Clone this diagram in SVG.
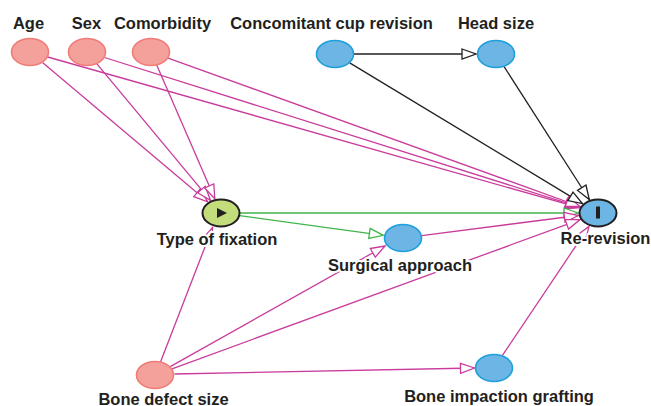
<svg xmlns="http://www.w3.org/2000/svg" width="651" height="406" viewBox="0 0 651 406">
<defs>
<style>
.e{fill:none;stroke-width:1.3}
.m{stroke:#c93c9c}
.g{stroke:#3fb54b}
.k{stroke:#231f20}
.lab{font-family:"Liberation Sans",Arial,sans-serif;font-size:16.5px;font-weight:bold;fill:#231f20;text-anchor:middle;stroke:#fff;stroke-width:4;paint-order:stroke;stroke-linejoin:round}
.pink{fill:#f5a19b;stroke:#f07c78;stroke-width:1.6}
.blue{fill:#6cb5e4;stroke:#1d9fdb;stroke-width:1.6}
.out{stroke:#231f20;stroke-width:2}
</style>
<marker id="am" markerUnits="userSpaceOnUse" markerWidth="16" markerHeight="12" refX="14" refY="5" orient="auto" overflow="visible"><path d="M0,0 L14,5 L0,10 Z" fill="#fff" stroke="#c93c9c" stroke-width="1.3"/></marker>
<marker id="ag" markerUnits="userSpaceOnUse" markerWidth="16" markerHeight="12" refX="14" refY="5" orient="auto" overflow="visible"><path d="M0,0 L14,5 L0,10 Z" fill="#fff" stroke="#3fb54b" stroke-width="1.3"/></marker>
<marker id="ak" markerUnits="userSpaceOnUse" markerWidth="16" markerHeight="12" refX="14" refY="5" orient="auto" overflow="visible"><path d="M0,0 L14,5 L0,10 Z" fill="#fff" stroke="#231f20" stroke-width="1.3"/></marker>
</defs>
<rect width="651" height="406" fill="#fff"/>
<g id="connectors">
<line class="e m" x1="42.5" y1="62.5" x2="207.7" y2="201.8" marker-end="url(#am)"/>
<line class="e m" x1="47.7" y1="57" x2="579.3" y2="207.7" marker-end="url(#am)"/>
<line class="e m" x1="96.9" y1="63.9" x2="210.4" y2="200.3" marker-end="url(#am)"/>
<line class="e m" x1="104.5" y1="57.5" x2="579.6" y2="207.2" marker-end="url(#am)"/>
<line class="e m" x1="156.8" y1="65.3" x2="214.8" y2="198.7" marker-end="url(#am)"/>
<line class="e m" x1="168.1" y1="58.1" x2="580" y2="206.5" marker-end="url(#am)"/>
<line class="e k" x1="354" y1="54" x2="476" y2="54" marker-end="url(#ak)"/>
<line class="e k" x1="349.7" y1="62.9" x2="582.4" y2="203.6" marker-end="url(#ak)"/>
<line class="e k" x1="504.1" y1="66.7" x2="589.3" y2="199.5" marker-end="url(#ak)"/>
<line class="e g" x1="240" y1="213" x2="578" y2="213" marker-end="url(#ag)"/>
<line class="e g" x1="239.7" y1="215.6" x2="383.3" y2="235.3" marker-end="url(#ag)"/>
<line class="e m" x1="421.7" y1="235.6" x2="578.3" y2="215.5" marker-end="url(#am)"/>
<line class="e m" x1="160.5" y1="362" x2="212.5" y2="227.5" marker-end="url(#am)"/>
<line class="e m" x1="170.2" y1="366.6" x2="385" y2="246" marker-end="url(#am)"/>
<line class="e m" x1="172" y1="368.8" x2="580" y2="219.6" marker-end="url(#am)"/>
<line class="e m" x1="174.5" y1="374" x2="474.5" y2="368" marker-end="url(#am)"/>
<line class="e m" x1="502.4" y1="355.4" x2="589" y2="226.4" marker-end="url(#am)"/>
</g>
<g id="age"><ellipse class="pink" cx="30" cy="52" rx="18.5" ry="13.5"/><text class="lab" x="28.5" y="29">Age</text></g>
<g id="sex"><ellipse class="pink" cx="87" cy="52" rx="18.5" ry="13.5"/><text class="lab" x="86.5" y="29">Sex</text></g>
<g id="comorbidity"><ellipse class="pink" cx="151" cy="52" rx="18.5" ry="13.5"/><text class="lab" x="162.5" y="29">Comorbidity</text></g>
<g id="cup-revision"><ellipse class="blue" cx="335" cy="54" rx="18.5" ry="13.5"/><text class="lab" x="331.5" y="29">Concomitant cup revision</text></g>
<g id="head-size"><ellipse class="blue" cx="496" cy="54" rx="18.5" ry="13.5"/><text class="lab" x="496" y="29">Head size</text></g>
<g id="type-of-fixation"><ellipse cx="221" cy="213" rx="18.5" ry="13.5" fill="#c4dd7c" class="out"/><path d="M217,208 L227,213 L217,218 Z" fill="#231f20"/><text class="lab" x="217" y="245">Type of fixation</text></g>
<g id="re-revision"><ellipse cx="598" cy="213" rx="18.5" ry="13.5" fill="#6cb5e4" class="out"/><rect x="596" y="206.5" width="4" height="12" fill="#231f20"/><text class="lab" x="605.5" y="244">Re-revision</text></g>
<g id="surgical-approach"><ellipse class="blue" cx="403" cy="238" rx="18.5" ry="13.5"/><text class="lab" x="400" y="271">Surgical approach</text></g>
<g id="bone-defect-size"><ellipse class="pink" cx="155" cy="375" rx="18.5" ry="13.5"/><text class="lab" x="163.5" y="404.5">Bone defect size</text></g>
<g id="bone-impaction-grafting"><ellipse class="blue" cx="494" cy="368" rx="18.5" ry="13.5"/><text class="lab" x="499" y="402">Bone impaction grafting</text></g>
</svg>
